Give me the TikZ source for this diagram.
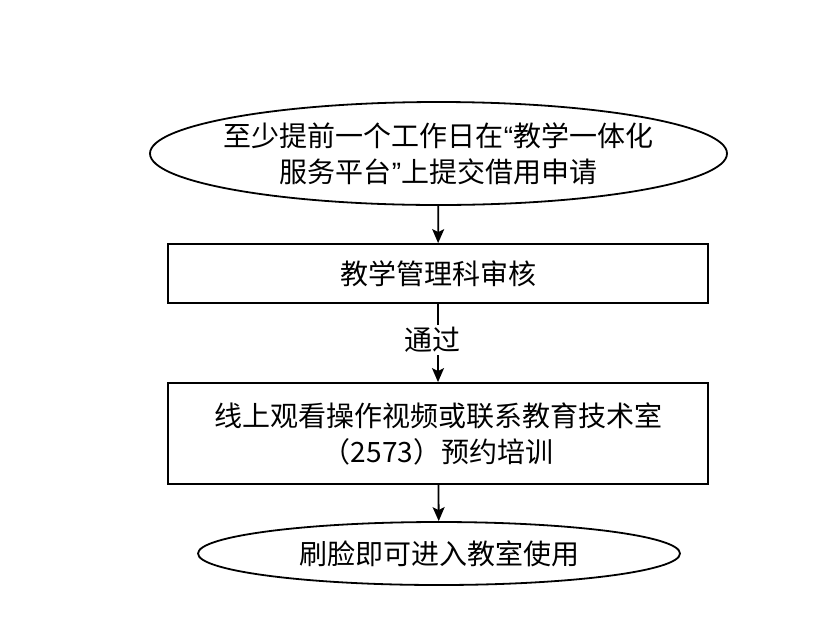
\documentclass[tikz,border=0pt]{standalone}
\usepackage{fontspec}
\newfontfamily\cjk{Noto Sans CJK SC}
\newfontfamily\latin{Liberation Sans}
\usetikzlibrary{shapes.geometric,arrows.meta}

\begin{document}
\begin{tikzpicture}[x=1pt, y=-1pt, line width=1.8pt,
  every node/.style={font=\cjk\fontsize{28}{36}\selectfont, align=center, inner sep=0pt},
  flowbox/.style={draw, rectangle, minimum width=540pt},
  endpoint/.style={draw, ellipse},
  flowarrow/.style={-{Stealth[length=14pt, width=12pt, inset=3pt]}}]
\useasboundingbox (0,0) rectangle (840,630);%画像と同じ 840x630 の枠

%%ノード
\node [endpoint, inner xsep=-16pt, minimum width=577pt, minimum height=103pt] (apply) at (438.5,153.5)
  {至少提前一个工作日在{\latin “}教学一体化\\服务平台{\latin ”}上提交借用申请};
   %上の楕円(申请)
\node [flowbox, minimum height=59pt] (review) at (438,273.5) {教学管理科审核};
   %審核の長方形
\node [flowbox, minimum height=101pt] (train) at (438,433.5)
  {线上观看操作视频或联系教育技术室\\（2573）预约培训};
   %培训の長方形
\node [endpoint, minimum width=482pt, minimum height=63pt] (enter) at (439,553.5) {刷脸即可进入教室使用};
   %下の楕円

%%矢印
\draw [flowarrow] (apply) -- (review);
\draw [flowarrow] (review) -- node [fill=white, inner sep=2pt, xshift=-6pt, yshift=3pt] (pass) {通过} (train);
   %"通过"のラベル付き
\draw [flowarrow] (train) -- (enter);
\end{tikzpicture}
\end{document}
